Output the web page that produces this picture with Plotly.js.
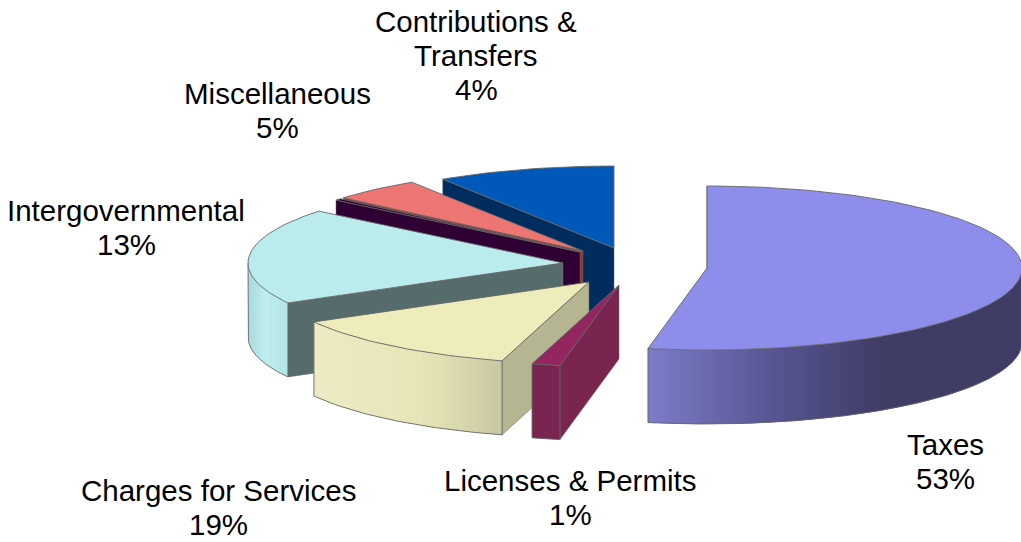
<!DOCTYPE html>
<html><head><meta charset="utf-8">
<script src="https://cdn.plot.ly/plotly-3.0.1.min.js"></script>
<style>html,body{margin:0;padding:0;background:#fff}#c{width:1021px;height:542px}</style>
</head><body><div id="c"></div>
<script>
// Data
const sliceNames  = ["Taxes","Licenses & Permits","Charges for Services","Intergovernmental","Divider","Miscellaneous","Contributions & Transfers"];
const sliceShares = [53, 1.45, 12.45, 19, 0.35, 4.6, 9.15];
const labelLines  = [["Taxes","53%"],["Licenses & Permits","1%"],["Charges for Services","19%"],["Intergovernmental","13%"],["Miscellaneous","5%"],["Contributions &","Transfers","4%"]];

// Styles
const topColors  = ["#8d8dec","#93265f","#eeecbb","#bbeced","#2e0033","#ee7672","#0059b8"];
const wallColors = ["#8d8dec","#7a2450","#b5b592","#566c6c","#2e0033","#8b3a3a","#002d5e"];
const rimStops = [
  [[650,[123,123,200]],[780,[85,84,143]],[880,[63,61,102]],[1021,[63,61,102]]],
  [[531,[122,36,80]],[561,[122,36,80]]],
  [[313,[236,235,195]],[420,[232,230,184]],[503,[201,199,162]]],
  [[248,[169,216,216]],[265,[191,238,238]],[287,[180,230,230]]],
  [[0,[46,0,51]],[1021,[46,0,51]]],
  [[0,[139,58,58]],[1021,[139,58,58]]],
  [[0,[0,45,94]],[1021,[0,45,94]]]
];
// Layout of the exploded pie (pixel-scale axes)
const pie = {cx:625, cy:262, a:315, b:82, depth:74};
const offsets = [[82,6],[-6,23],[-36,20],[-62,1],[-45,-10],[-42,-11],[-11,-14]];
const labelPos = [[945,461.5],[570,497],[218,507.5],[126,227.5],[277,110.5],[476,55]];
const lineGap = 34;
const outline = "#666666";

const rad = d => d*Math.PI/180;
const traces = [];
function poly(xs,ys,fill,line,w){
  traces.push({type:"scatter",mode:"lines",x:xs,y:ys,fill:"toself",fillcolor:fill,
    line:{color:line,width:w},hoverinfo:"skip",showlegend:false});
}
function stroke(xs,ys,color,w){
  traces.push({type:"scatter",mode:"lines",x:xs,y:ys,line:{color:color,width:w},hoverinfo:"skip",showlegend:false});
}
function rimColor(stops,x){
  if(x<=stops[0][0]) return stops[0][1];
  for(let i=1;i<stops.length;i++){
    if(x<=stops[i][0]){
      const t=(x-stops[i-1][0])/(stops[i][0]-stops[i-1][0]);
      return stops[i-1][1].map((c,k)=>c+(stops[i][1][k]-c)*t);
    }
  }
  return stops[stops.length-1][1];
}
const total = sliceShares.reduce((s,v)=>s+v,0);
const spans = []; let acc = 0;
sliceShares.forEach(v=>{const s=acc/total*360; acc+=v; spans.push([s,acc/total*360]);});

for(let i=sliceShares.length-1;i>=0;i--){
  const [ts,te]=spans[i];
  const ax=pie.cx+offsets[i][0], ay=pie.cy+offsets[i][1];
  const px=t=>ax+pie.a*Math.sin(rad(t));
  const py=t=>ay-pie.b*Math.cos(rad(t));
  // side wall along the starting edge
  poly([ax,px(ts),px(ts),ax,ax],[ay,py(ts),py(ts)+pie.depth,ay+pie.depth,ay],wallColors[i],outline,0.5);
  // curved outer wall, visible on the near half only; bands overlap to hide seams
  const r0=Math.max(ts,90), r1=Math.min(te,270);
  if(r1>r0){
    const n=Math.max(1,Math.round((r1-r0)/1));
    const step=(r1-r0)/n;
    for(let k=0;k<n;k++){
      const t0=r0+k*step,t1=Math.min(r1,t0+2*step);
      const c=rimColor(rimStops[i],px(t0+step/2)).map(Math.round);
      const col=`rgb(${c[0]},${c[1]},${c[2]})`;
      const xs=[],ys=[];
      [t0,t1].forEach(t=>{xs.push(px(t));ys.push(py(t));});
      [t1,t0].forEach(t=>{xs.push(px(t));ys.push(py(t)+pie.depth);});
      xs.push(px(t0));ys.push(py(t0));
      poly(xs,ys,col,col,0);
    }
    const bx=[],by=[];
    for(let k=0;k<=n;k++){const t=r0+k*step;bx.push(px(t));by.push(py(t)+pie.depth);}
    stroke([px(r1),px(r1)].concat(bx.slice().reverse()).concat([px(r0),px(r0)]),
           [py(r1),py(r1)+pie.depth].concat(by.slice().reverse()).concat([py(r0)+pie.depth,py(r0)]),outline,0.9);
  }
  // top face
  const tx=[ax],ty=[ay];
  const n=Math.max(2,Math.round((te-ts)/1.5));
  for(let k=0;k<=n;k++){const t=ts+(te-ts)*k/n;tx.push(px(t));ty.push(py(t));}
  tx.push(ax);ty.push(ay);
  poly(tx,ty,topColors[i],outline,0.9);
}

const annotations = [];
labelLines.forEach((lines,i)=>{
  lines.forEach((t,j)=>{
    annotations.push({
      text:t,x:labelPos[i][0],y:labelPos[i][1]+(j-(lines.length-1)/2)*lineGap,
      xref:"x",yref:"y",showarrow:false,xanchor:"center",yanchor:"middle",align:"center",
      font:{family:"Liberation Sans, Arial, sans-serif",size:29.5,color:"#000"}
    });
  });
});

Plotly.newPlot("c",traces,{
  width:1021,height:542,margin:{l:0,r:0,t:0,b:0},
  paper_bgcolor:"#fff",plot_bgcolor:"#fff",showlegend:false,
  xaxis:{range:[0,1021],visible:false,fixedrange:true},
  yaxis:{range:[542,0],visible:false,fixedrange:true},
  annotations
},{displayModeBar:false,staticPlot:true});
</script></body></html>
